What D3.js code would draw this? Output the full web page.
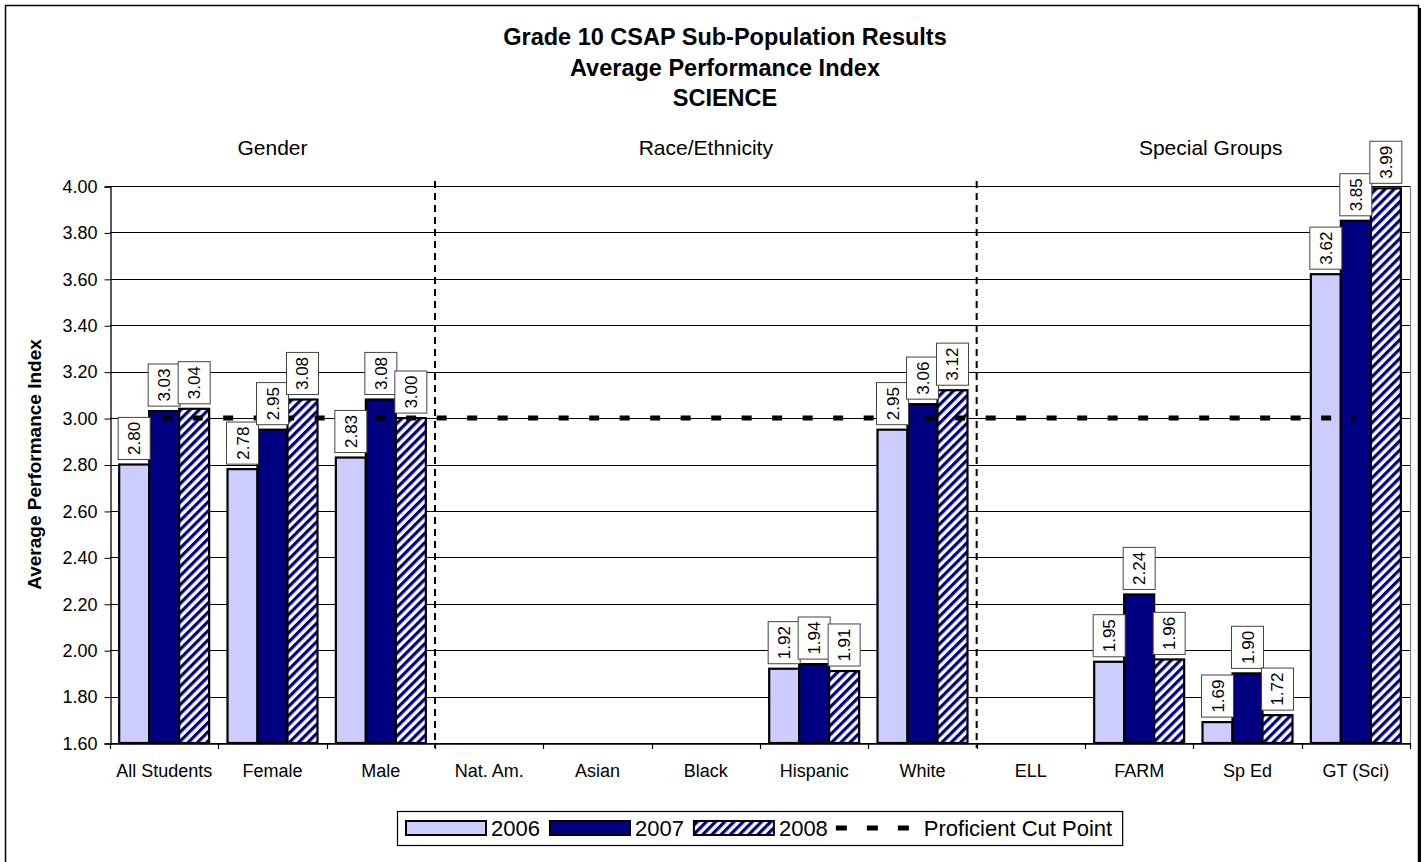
<!DOCTYPE html>
<html>
<head>
<meta charset="utf-8">
<script src="https://cdn.jsdelivr.net/npm/d3@7"></script>
<style>
  html, body { margin: 0; padding: 0; background: #fff; }
  svg { display: block; font-family: "Liberation Sans", Arial, sans-serif; }
</style>
</head>
<body>
<svg id="chart" width="1427" height="862"></svg>
<script>
// ---------- data ----------
const categories = ["All Students", "Female", "Male", "Nat. Am.", "Asian", "Black", "Hispanic", "White", "ELL", "FARM", "Sp Ed", "GT (Sci)"];
const seriesNames = ["2006", "2007", "2008"];
const values2006 = [2.80, 2.78, 2.83, null, null, null, 1.92, 2.95, null, 1.95, 1.69, 3.62];
const values2007 = [3.03, 2.95, 3.08, null, null, null, 1.94, 3.06, null, 2.24, 1.90, 3.85];
const values2008 = [3.04, 3.08, 3.00, null, null, null, 1.91, 3.12, null, 1.96, 1.72, 3.99];
const cutPointName = "Proficient Cut Point";
const cutPoint = 3.00;
const yTicks = [1.60, 1.80, 2.00, 2.20, 2.40, 2.60, 2.80, 3.00, 3.20, 3.40, 3.60, 3.80, 4.00];
const titleLines = ["Grade 10 CSAP Sub-Population Results", "Average Performance Index", "SCIENCE"];
const yAxisTitle = "Average Performance Index";
const groupNames = ["Gender", "Race/Ethnicity", "Special Groups"];
const groupAnchors = [1, 5, 9.66];      // category position of each group heading
const groupBreaks = [3, 8];             // category index where a dashed divider begins

// ---------- setup ----------
const svg = d3.select("#chart");
const W = 1427, H = 862;
const plot = { left: 110, right: 1410, top: 186, bottom: 743 };

const x = d3.scaleBand().domain(categories).range([plot.left, plot.right]).paddingInner(0).paddingOuter(0);
const xs = d3.scaleBand().domain(seriesNames).range([0, x.bandwidth()]).paddingInner(0).paddingOuter(0.306);
const y = d3.scaleLinear().domain([1.6, 4.0]).range([plot.bottom, plot.top]);

const seriesValues = { "2006": values2006, "2007": values2007, "2008": values2008 };
const fills = { "2006": "#CCCCFF", "2007": "#000080", "2008": "url(#hatch)" };

// pattern
const defs = svg.append("defs");
const pat = defs.append("pattern").attr("id", "hatch").attr("patternUnits", "userSpaceOnUse")
  .attr("width", 6.5).attr("height", 6.5).attr("patternTransform", "rotate(45)");
pat.append("rect").attr("width", 6.5).attr("height", 6.5).attr("fill", "#fff");
pat.append("rect").attr("width", 3.2).attr("height", 6.5).attr("fill", "#000080");

// outer border with shadow (bottom edge lies below the window)
svg.append("rect").attr("x", 8).attr("y", 8).attr("width", 1413).attr("height", 870).attr("fill", "#000");
svg.append("rect").attr("x", 5.5).attr("y", 5.5).attr("width", 1413).attr("height", 870)
  .attr("fill", "#fff").attr("stroke", "#000").attr("stroke-width", 1.5);

// title
svg.append("g").selectAll("text").data(titleLines).join("text")
  .attr("x", 725).attr("y", (d, i) => 45 + i * 30.5)
  .attr("text-anchor", "middle").attr("font-weight", "bold").attr("font-size", 23.5)
  .text(d => d);

// gridlines
svg.append("g").selectAll("line").data(yTicks).join("line")
  .attr("x1", plot.left).attr("x2", plot.right)
  .attr("y1", d => Math.round(y(d)) + 0.5).attr("y2", d => Math.round(y(d)) + 0.5)
  .attr("stroke", "#000").attr("stroke-width", 1);

// plot right border
svg.append("line").attr("x1", plot.right + 0.5).attr("x2", plot.right + 0.5)
  .attr("y1", plot.top).attr("y2", plot.bottom).attr("stroke", "#808080").attr("stroke-width", 1.2);

// y axis
const yAxis = d3.axisLeft(y).tickValues(yTicks).tickFormat(d3.format(".2f")).tickSize(6).tickPadding(7);
const gy = svg.append("g").attr("transform", `translate(${plot.left + 0.5},0.5)`).call(yAxis);
gy.select(".domain").attr("stroke", "#000").attr("stroke-width", 1.3);
gy.selectAll(".tick line").attr("stroke", "#000");
gy.selectAll(".tick text").attr("font-size", 18).attr("fill", "#000")
  .attr("font-family", "Liberation Sans, Arial, sans-serif");

// x axis
const xAxis = d3.axisBottom(x).tickSize(0).tickPadding(0);
const gx = svg.append("g").attr("transform", `translate(0,${plot.bottom + 0.5})`).call(xAxis);
gx.select(".domain").attr("stroke", "#000").attr("stroke-width", 1.3);
gx.selectAll(".tick text").attr("font-size", 18).attr("fill", "#000").attr("dy", null).attr("y", 33.5)
  .attr("font-family", "Liberation Sans, Arial, sans-serif");
// category boundary ticks
const bounds = d3.range(categories.length + 1).map(i => plot.left + i * x.step());
svg.append("g").selectAll("line").data(bounds).join("line")
  .attr("x1", d => Math.round(d) + 0.5).attr("x2", d => Math.round(d) + 0.5)
  .attr("y1", plot.bottom).attr("y2", plot.bottom + 6).attr("stroke", "#000").attr("stroke-width", 1.2);

// y axis title
svg.append("text").attr("transform", `translate(41,${(plot.top + plot.bottom) / 2}) rotate(-90)`)
  .attr("text-anchor", "middle").attr("font-weight", "bold").attr("font-size", 19).text(yAxisTitle);

// group headings
svg.append("g").selectAll("text").data(groupNames).join("text")
  .attr("x", (d, i) => plot.left + (groupAnchors[i] + 0.5) * x.step())
  .attr("y", 155).attr("text-anchor", "middle").attr("font-size", 21).text(d => d);

// dividers
svg.append("g").selectAll("line").data(groupBreaks).join("line")
  .attr("x1", d => plot.left + d * x.step()).attr("x2", d => plot.left + d * x.step())
  .attr("y1", plot.top - 5).attr("y2", plot.bottom + 5)
  .attr("stroke", "#000").attr("stroke-width", 2).attr("stroke-dasharray", "7,5");

// bars
const barData = [];
categories.forEach((c, ci) => seriesNames.forEach(s => {
  const v = seriesValues[s][ci];
  if (v != null) barData.push({ c, s, v });
}));
svg.append("g").selectAll("rect").data(barData).join("rect")
  .attr("x", d => x(d.c) + xs(d.s)).attr("width", xs.bandwidth())
  .attr("y", d => y(d.v)).attr("height", d => y(1.6) - y(d.v))
  .attr("fill", d => fills[d.s]).attr("stroke", "#000").attr("stroke-width", 2.2);

// proficient cut point line
svg.append("line")
  .attr("x1", x(categories[0]) + x.bandwidth() / 2 - 2).attr("x2", x(categories[categories.length - 1]) + x.bandwidth() / 2)
  .attr("y1", y(cutPoint)).attr("y2", y(cutPoint))
  .attr("stroke", "#000").attr("stroke-width", 5).attr("stroke-dasharray", "10,20.5");

// data labels
const lg = svg.append("g");
barData.forEach(d => {
  const cx = x(d.c) + xs(d.s) + xs.bandwidth() / 2;
  const g = lg.append("g");
  const t = g.append("text").attr("font-size", 17).text(d3.format(".2f")(d.v));
  const len = t.node().getComputedTextLength();
  const bw = 32, bh = len + 9;
  const bottom = y(d.v) - 5;
  g.insert("rect", "text").attr("x", cx - bw / 2).attr("y", bottom - bh).attr("width", bw).attr("height", bh)
    .attr("fill", "#fff").attr("stroke", "#444").attr("stroke-width", 1);
  t.attr("transform", `translate(${cx + 6},${bottom - bh / 2}) rotate(-90)`).attr("text-anchor", "middle");
});

// legend
const leg = svg.append("g");
const legTop = 811, legBottom = 845, legMid = 828;
let lx = 406;
const legFont = 22;
seriesNames.forEach(s => {
  leg.append("rect").attr("x", lx).attr("y", legMid - 7).attr("width", 80).attr("height", 14)
    .attr("fill", fills[s]).attr("stroke", "#000").attr("stroke-width", 2);
  lx += 85;
  const t = leg.append("text").attr("x", lx).attr("y", legMid + 8).attr("font-size", legFont).text(s);
  lx += t.node().getComputedTextLength() + 10;
});
lx -= 2;
leg.append("line").attr("x1", lx).attr("x2", lx + 73).attr("y1", legMid).attr("y2", legMid)
  .attr("stroke", "#000").attr("stroke-width", 5).attr("stroke-dasharray", "11,20");
lx += 88;
const lt = leg.append("text").attr("x", lx).attr("y", legMid + 8).attr("font-size", legFont).text(cutPointName);
lx += lt.node().getComputedTextLength() + 10;
leg.insert("rect", ":first-child").attr("x", 397.5).attr("y", legTop + 0.5).attr("width", lx - 397).attr("height", legBottom - legTop)
  .attr("fill", "#fff").attr("stroke", "#000").attr("stroke-width", 1.2);
</script>
</body>
</html>
